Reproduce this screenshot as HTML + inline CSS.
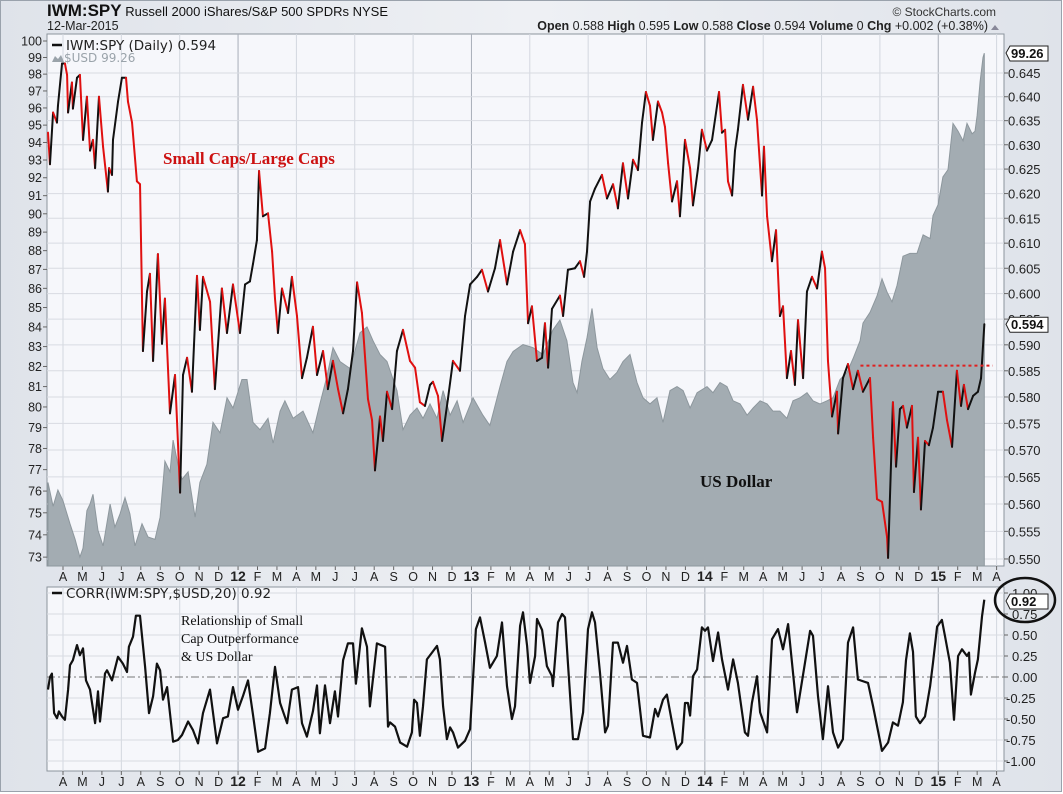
<!DOCTYPE html>
<html><head><meta charset="utf-8">
<style>
html,body{margin:0;padding:0;background:#fff;}
svg{display:block;font-family:"Liberation Sans",sans-serif;}
</style></head>
<body>
<svg id="chart" width="1063" height="794" viewBox="0 0 1063 794" xmlns="http://www.w3.org/2000/svg">
<defs>
<linearGradient id="bg" x1="0" y1="0" x2="1" y2="0">
<stop offset="0" stop-color="#dfe3ea"/><stop offset="0.5" stop-color="#eef0f4"/><stop offset="1" stop-color="#dfe3ea"/>
</linearGradient>
</defs>
<rect x="0.5" y="0.5" width="1061" height="791" fill="url(#bg)" stroke="#9aa2ac"/>
<text x="47" y="16" font-size="13" fill="#111"><tspan font-weight="bold" font-size="17">IWM:SPY</tspan> Russell 2000 iShares/S&amp;P 500 SPDRs  NYSE</text>
<text x="47" y="30" font-size="12.5" fill="#222">12-Mar-2015</text>
<text x="996" y="16" font-size="12" fill="#333" text-anchor="end">© StockCharts.com</text>
<text x="988" y="30" font-size="12.5" fill="#222" text-anchor="end"><tspan font-weight="bold">Open</tspan> 0.588  <tspan font-weight="bold">High</tspan> 0.595  <tspan font-weight="bold">Low</tspan> 0.588  <tspan font-weight="bold">Close</tspan> 0.594  <tspan font-weight="bold">Volume</tspan> 0  <tspan font-weight="bold">Chg</tspan> +0.002 (+0.38%)</text>
<path d="M991 30 L995 25 L999 30 Z" fill="#889"/>
<g id="main"></g>
<g id="lower"></g>
</svg>
<script>
// ---- data: time in months since 1-Apr-2011 ----
const ratioT = [-0.77,-0.67,-0.51,-0.31,-0.26,-0.05,0.10,0.21,0.26,0.46,0.51,0.72,0.87,1.03,1.23,1.39,1.54,1.65,1.85,2.06,2.31,2.37,2.52,2.57,2.83,3.03,3.24,3.34,3.55,3.80,3.96,4.11,4.32,4.47,4.63,4.88,5.09,5.24,5.50,5.76,6.02,6.17,6.38,6.63,6.89,7.04,7.20,7.56,7.81,8.17,8.43,8.74,9.10,9.36,9.61,9.77,9.97,10.08,10.28,10.54,10.75,10.90,11.05,11.26,11.57,11.77,12.03,12.29,12.54,12.85,13.06,13.37,13.62,13.88,14.14,14.40,14.65,14.91,15.12,15.37,15.68,15.89,16.04,16.30,16.45,16.66,16.92,17.17,17.48,17.84,18.10,18.35,18.61,18.87,19.02,19.28,19.49,19.79,20.05,20.41,20.67,20.93,21.29,21.54,21.85,22.21,22.47,22.83,23.14,23.50,23.75,23.91,24.11,24.37,24.63,24.78,24.94,25.14,25.55,25.71,25.96,26.32,26.58,26.79,26.94,27.10,27.35,27.71,27.97,28.28,28.53,28.79,29.05,29.31,29.56,29.77,29.97,30.18,30.33,30.59,30.80,30.95,31.11,31.31,31.57,31.72,31.98,32.24,32.39,32.65,32.85,33.11,33.37,33.73,33.88,34.04,34.19,34.40,34.55,34.70,34.96,35.22,35.48,35.68,35.94,36.04,36.20,36.45,36.66,36.86,37.02,37.22,37.43,37.63,37.79,38.05,38.25,38.51,38.77,39.02,39.18,39.33,39.54,39.79,39.85,40.10,40.36,40.62,40.87,41.13,41.49,41.65,41.85,42.11,42.37,42.42,42.67,42.83,43.03,43.19,43.39,43.65,43.75,43.96,44.11,44.32,44.52,44.73,44.99,45.24,45.45,45.71,45.96,46.17,46.32,46.53,46.79,47.04,47.20,47.37];
const ratioV = [.6325,.626,.6367,.6346,.6381,.647,.647,.6446,.6367,.643,.6375,.644,.6446,.631,.640,.6288,.631,.6252,.640,.6296,.6204,.6252,.6238,.631,.639,.644,.644,.639,.6346,.6225,.6219,.5888,.6004,.6039,.5869,.6078,.5902,.599,.5769,.5842,.5621,.5842,.5875,.581,.6035,.5929,.6033,.5984,.5815,.601,.5923,.6018,.5923,.6018,.6024,.6059,.6106,.6246,.6154,.616,.6083,.599,.5923,.601,.5962,.6033,.5956,.5836,.5875,.5935,.5842,.5888,.5815,.5869,.5815,.5769,.5815,.5888,.6022,.5962,.5796,.5756,.5662,.5763,.5717,.581,.5777,.5888,.5929,.5869,.5856,.579,.5783,.5823,.5829,.5802,.5717,.5796,.5869,.585,.5956,.6018,.6033,.6047,.6004,.605,.6106,.6018,.6083,.6126,.6098,.5942,.5975,.5869,.5875,.5942,.5856,.597,.5996,.5956,.6047,.605,.6064,.6033,.6083,.6184,.621,.6238,.619,.6219,.617,.6262,.619,.6269,.6248,.6346,.641,.6381,.631,.639,.6367,.6337,.6262,.6184,.6225,.6154,.631,.6252,.6176,.6252,.6331,.6288,.631,.641,.6325,.6331,.6225,.6196,.6288,.6331,.6425,.6352,.6421,.6352,.6196,.6296,.6154,.6064,.6126,.5956,.5975,.5836,.5888,.5823,.5948,.5836,.6004,.6033,.601,.6083,.605,.5869,.5763,.581,.5731,.5836,.5863,.5815,.585,.581,.5836,.5723,.5609,.5604,.5539,.5502,.579,.5669,.5777,.5783,.5742,.5783,.5622,.5723,.559,.5717,.5709,.5742,.581,.581,.5756,.5706,.585,.5783,.5823,.5777,.5802,.581,.5836,.594];
const usdT = [-0.77,-0.51,-0.26,0,0.36,0.62,0.87,1.03,1.23,1.39,1.54,1.80,2.06,2.42,2.67,2.93,3.19,3.44,3.70,4.06,4.37,4.73,4.99,5.24,5.50,5.66,5.91,6.12,6.43,6.79,7.04,7.40,7.71,8.07,8.43,8.74,9.20,9.46,9.77,10.13,10.54,10.80,11.16,11.41,11.83,12.34,12.85,13.21,13.57,13.88,14.24,14.76,15.27,15.63,15.94,16.30,16.66,16.92,17.17,17.48,17.84,18.20,18.51,18.87,19.23,19.54,19.90,20.26,20.57,21.08,21.59,21.95,22.47,22.83,23.14,23.65,24.16,24.68,25.19,25.55,25.91,26.22,26.43,26.68,26.94,27.20,27.46,27.76,28.12,28.48,28.79,29.15,29.51,29.82,30.18,30.54,30.85,31.21,31.57,31.88,32.24,32.60,33.11,33.42,33.78,34.14,34.45,34.81,35.17,35.48,35.84,36.20,36.50,36.86,37.22,37.53,37.89,38.25,38.56,38.92,39.28,39.59,39.95,40.31,40.62,40.98,41.13,41.49,41.85,42.11,42.37,42.62,42.88,43.19,43.55,43.91,44.22,44.58,44.73,44.99,45.24,45.50,45.76,46.02,46.27,46.48,46.74,46.89,47.00,47.15,47.30,47.37];
const usdV = [76.4,75.3,76.05,75.55,74.5,73.8,73.0,73.4,75.1,75.4,75.85,74.2,73.5,75.4,74.35,74.95,75.7,74.95,73.5,74.5,73.9,73.8,74.8,77.4,76.9,78.4,77.25,76.55,76.9,74.8,76.4,77.25,79.25,78.75,80.45,79.95,81.35,81.35,79.25,78.9,79.45,78.25,79.8,80.3,79.45,79.8,78.75,80.15,81.5,82.95,82.25,81.9,83.7,84.0,83.3,82.6,82.25,81.5,80.8,78.9,79.6,79.95,79.45,80.15,79.45,80.8,79.6,80.3,79.25,80.45,79.6,79.1,81.0,82.25,82.75,83.1,82.95,82.6,83.85,84.35,83.3,81.2,80.7,82.25,83.45,84.95,82.95,81.9,81.35,81.7,82.25,82.6,81.2,80.45,80.15,80.45,79.25,80.8,81.0,80.8,79.95,80.7,81.0,80.7,81.2,81.0,80.3,80.15,79.6,79.95,80.3,80.15,79.8,79.8,79.45,80.3,80.45,80.7,80.3,80.15,80.3,80.45,81.35,81.7,82.4,83.3,84.2,84.75,85.6,86.5,85.8,85.3,86.15,87.7,87.85,87.85,88.85,88.65,89.9,90.5,92.05,92.45,95.1,94.65,94.1,95.1,94.5,94.65,95.55,97.55,99.0,99.26];
const corrT = [-0.77,-0.67,-0.57,-0.46,-0.31,-0.21,-0.05,0.10,0.26,0.36,0.51,0.72,0.87,1.03,1.18,1.39,1.65,1.80,1.90,2.16,2.26,2.52,2.83,3.08,3.29,3.39,3.60,3.75,3.96,4.22,4.42,4.63,4.83,4.99,5.14,5.35,5.66,5.91,6.12,6.43,6.68,6.94,7.20,7.56,7.92,8.23,8.48,8.74,9.00,9.25,9.51,9.77,10.03,10.39,10.64,10.90,11.16,11.52,11.77,12.08,12.29,12.54,12.85,13.06,13.21,13.47,13.73,13.98,14.14,14.40,14.65,14.91,15.06,15.37,15.63,15.78,16.14,16.56,16.71,16.81,17.07,17.33,17.69,17.94,18.05,18.20,18.35,18.51,18.71,18.97,19.23,19.38,19.54,19.74,19.90,20.05,20.31,20.67,20.93,21.23,21.44,21.70,21.95,22.31,22.57,22.83,23.08,23.24,23.50,23.65,23.86,24.01,24.27,24.37,24.63,24.88,25.14,25.19,25.45,25.66,25.81,25.96,26.22,26.48,26.74,26.99,27.20,27.35,27.61,27.87,28.02,28.28,28.53,28.79,29.00,29.25,29.51,29.82,30.18,30.44,30.59,30.85,31.05,31.31,31.57,31.83,31.98,32.13,32.24,32.39,32.60,32.85,33.01,33.16,33.42,33.68,33.88,34.19,34.45,34.70,35.06,35.22,35.42,35.68,35.84,36.20,36.45,36.76,37.02,37.28,37.74,38.15,38.41,38.56,38.82,39.07,39.33,39.59,39.85,40.10,40.36,40.62,40.87,41.39,41.65,42.11,42.42,42.67,42.93,43.18,43.34,43.54,43.70,43.85,44.06,44.32,44.58,44.73,44.94,45.19,45.35,45.60,45.81,46.02,46.22,46.48,46.58,46.68,46.89,47.04,47.25,47.37];
const corrV = [-.15,0,.04,-.43,-.49,-.41,-.47,-.51,-.15,.14,.2,.38,.26,.34,-.04,-.15,-.55,-.17,-.53,.04,.08,-.04,.24,.16,.06,.36,.48,.73,.73,.12,-.43,-.23,.16,.08,-.27,-.12,-.77,-.75,-.69,-.53,-.63,-.79,-.43,-.15,-.79,-.49,-.47,-.12,-.39,-.23,-.04,-.45,-.89,-.85,-.43,.12,-.31,-.55,-.15,-.12,-.55,-.71,-.41,-.1,-.67,-.1,-.55,-.17,-.47,.2,.4,.4,-.08,.58,.36,-.35,.4,.36,-.59,-.54,-.59,-.78,-.83,-.66,-.27,-.31,-.70,-.35,.21,.29,.37,.21,-.35,-.74,-.60,-.66,-.84,-.76,-.62,.57,.71,.41,.11,.25,.65,-.11,-.5,-.35,.61,.77,.37,-.07,.25,.69,.56,.13,.01,-.11,.65,.75,.71,.17,-.74,-.74,-.42,.57,.77,.65,.05,-.66,-.58,.41,.41,.17,.37,-.03,-.07,-.70,-.72,-.38,-.47,-.27,-.21,-.54,-.86,-.78,-.31,-.31,-.46,.01,.09,.59,.55,.59,.19,.53,.21,-.15,.21,-.07,-.66,-.70,-.31,.01,-.42,-.66,.45,.57,.33,.63,-.42,.17,.55,.49,-.23,-.74,-.11,-.66,-.84,-.74,.41,.59,-.03,-.07,-.35,-.88,-.78,-.54,-.58,-.3,.2,.52,.3,-.47,-.55,-.47,-.11,.17,.6,.68,.48,.17,-.51,.25,.33,.25,.29,-.21,.05,.21,.72,.92];
const monthLabels = ["A","M","J","J","A","S","O","N","D","12","F","M","A","M","J","J","A","S","O","N","D","13","F","M","A","M","J","J","A","S","O","N","D","14","F","M","A","M","J","J","A","S","O","N","D","15","F","M","A"];
const usdTicks = [100,99,98,97,96,95,94,93,92,91,90,89,88,87,86,85,84,83,82,81,80,79,78,77,76,75,74,73];
const ratioTicks = [0.645,0.640,0.635,0.630,0.625,0.620,0.615,0.610,0.605,0.600,0.595,0.590,0.585,0.580,0.575,0.570,0.565,0.560,0.555,0.550];
const corrTicks = [1.00,0.75,0.50,0.25,0.00,-0.25,-0.50,-0.75,-1.00];
const resistance = [0.586];
const resistanceT = [41.0, 47.8];

const NS="http://www.w3.org/2000/svg";
const L=47, R=1004, MT=34, MB=566, LT=587, LB=771;
const X = t => 63 + t*19.45;
const yUsd = v => 41 + 1640*Math.log(100/v);
const yRatio = v => 73 + 3050*Math.log(0.645/v);
const yCorr = v => 677 - v*84;
function el(tag, attrs, parent, text){
  const e=document.createElementNS(NS,tag);
  for(const k in attrs) e.setAttribute(k,attrs[k]);
  if(text!==undefined) e.textContent=text;
  parent.appendChild(e); return e;
}
const main=document.getElementById('main'), lower=document.getElementById('lower');

function panel(g, top, bot, name){
  const r=el('rect',{x:L,y:top,width:R-L,height:bot-top,fill:'#f6f7fb',stroke:'#8c949c','stroke-width':1},g);
  
  
  // vertical quarterly grid
  for(let i=0;i<monthLabels.length;i++){
    if(i%3!==0) continue;
    const x=X(i);
    if(x<L||x>R) continue;
    const yr=/^\d+$/.test(monthLabels[i]);
    const gl=el('line',{x1:x,x2:x,y1:top,y2:bot,stroke:yr?'#a8aeb8':'#d3d7df','stroke-width':1},g);
    
    
  }
  // month axis labels
  for(let i=0;i<monthLabels.length;i++){
    const x=X(i);
    const tk=el('line',{x1:x,x2:x,y1:bot,y2:bot+4,stroke:'#666'},g);
    
    
    const yr=/^\d+$/.test(monthLabels[i]);
    const t=el('text',{x:x,y:bot+15,'font-size':yr?14:12.5,'font-weight':yr?'bold':'normal','text-anchor':'middle',fill:'#222'},g,monthLabels[i]);
    
    
  }
}
panel(main, MT, MB, 'price-panel');
panel(lower, LT, LB, 'indicator-panel');

// horizontal grid + right axis ratio ticks
ratioTicks.forEach(v=>{
  const y=yRatio(v);
  const g1=el('line',{x1:L,x2:R,y1:y,y2:y,stroke:'#d8dbe2'},main);
  
  
  el('line',{x1:R,x2:R+4,y1:y,y2:y,stroke:'#666'},main);
  const t=el('text',{x:R+4,y:y+5,'font-size':13,fill:'#222'},main,v.toFixed(3));
  
  
});
usdTicks.forEach(v=>{
  const y=yUsd(v);
  el('line',{x1:L-4,x2:L,y1:y,y2:y,stroke:'#666'},main);
  const t=el('text',{x:L-5,y:y+4.5,'font-size':12.5,fill:'#222','text-anchor':'end'},main,String(v));
  
  
});

// USD area
let d='M'+X(usdT[0]).toFixed(1)+' '+MB;
usdT.forEach((t,i)=>{ d+=' L'+X(t).toFixed(1)+' '+yUsd(usdV[i]).toFixed(1); });
d+=' L'+X(usdT[usdT.length-1]).toFixed(1)+' '+MB+' Z';
const area=el('path',{d:d,fill:'#a3acb2',stroke:'#8d979d','stroke-width':1},main);



// ratio line, red when falling, black when rising
for(let i=1;i<ratioT.length;i++){
  const up=ratioV[i]>=ratioV[i-1];
  const s=el('line',{x1:X(ratioT[i-1]),y1:yRatio(ratioV[i-1]),x2:X(ratioT[i]),y2:yRatio(ratioV[i]),stroke:up?'#111':'#e01010','stroke-width':2,'stroke-linecap':'round'},main);
  
  
}
// resistance dotted
const rl=el('line',{x1:X(resistanceT[0]),x2:X(resistanceT[1]),y1:yRatio(resistance[0]),y2:yRatio(resistance[0]),stroke:'#e02020','stroke-width':2,'stroke-dasharray':'3,3'},main);



// value tags
function tag(g,y,txt,name){
  const p=el('path',{d:`M${R+2} ${y} L${R+6} ${y-7} L${R+44} ${y-7} L${R+44} ${y+8} L${R+6} ${y+8} Z`,fill:'#fff',stroke:'#222'},g);
  
  
  const t=el('text',{x:R+7,y:y+5,'font-size':13,'font-weight':'bold',fill:'#111'},g,txt);
  
  
}
tag(main, 53, usdV[usdV.length-1].toFixed(2), 'usd-last-value-tag');
tag(main, yRatio(ratioV[ratioV.length-1]), ratioV[ratioV.length-1].toFixed(3), 'ratio-last-value-tag');

// legends
el('line',{x1:52,x2:62,y1:45,y2:45,stroke:'#111','stroke-width':2.5},main);
const lg1=el('text',{x:66,y:50,'font-size':13.5,fill:'#222','font-family':'"DejaVu Sans",sans-serif'},main,'IWM:SPY (Daily) 0.594');


el('path',{d:'M52 62 L55 56 L58 59 L61 55 L64 62 Z',fill:'#9aa3aa'},main);
const lg2=el('text',{x:64,y:62,'font-size':12,fill:'#9aa3aa','font-family':'"DejaVu Sans",sans-serif'},main,'$USD 99.26');



const a1=el('text',{x:163,y:164,'font-size':17,'font-weight':'bold',fill:'#cc1111','font-family':'"Liberation Serif",serif'},main,'Small Caps/Large Caps');


const a2=el('text',{x:700,y:487,'font-size':17,'font-weight':'bold',fill:'#111','font-family':'"Liberation Serif",serif'},main,'US Dollar');



// lower panel grid & axis
corrTicks.forEach(v=>{
  const y=yCorr(v);
  const zero=v===0;
  const g1=el('line',{x1:L,x2:R,y1:y,y2:y,stroke:zero?'#777':'#d8dbe2','stroke-dasharray':zero?'8,3,2,3':'none'},lower);
  
  
  el('line',{x1:R,x2:R+4,y1:y,y2:y,stroke:'#666'},lower);
  const t=el('text',{x:R+(v<0?2:8),y:y+5,'font-size':13,fill:'#222'},lower,v.toFixed(2));
  
  
});
let cd='';
corrT.forEach((t,i)=>{ cd+=(i?' L':'M')+X(t).toFixed(1)+' '+yCorr(corrV[i]).toFixed(1); });
const cl=el('path',{d:cd,fill:'none',stroke:'#111','stroke-width':2.2,'stroke-linejoin':'round'},lower);


tag(lower, 601, corrV[corrV.length-1].toFixed(2), 'corr-last-value-tag');
const ell=el('ellipse',{cx:1025,cy:600,rx:30,ry:22,fill:'none',stroke:'#111','stroke-width':2.5},lower);



el('line',{x1:52,x2:62,y1:593,y2:593,stroke:'#111','stroke-width':2.5},lower);
const lg3=el('text',{x:66,y:598,'font-size':13.5,fill:'#222','font-family':'"DejaVu Sans",sans-serif'},lower,'CORR(IWM:SPY,$USD,20) 0.92');


['Relationship of Small','Cap Outperformance','& US Dollar'].forEach((s,i)=>{
  const t=el('text',{x:181,y:625+i*18,'font-size':14,fill:'#111','font-family':'"Liberation Serif",serif'},lower,s);
  
  
});
</script>
</body></html>
